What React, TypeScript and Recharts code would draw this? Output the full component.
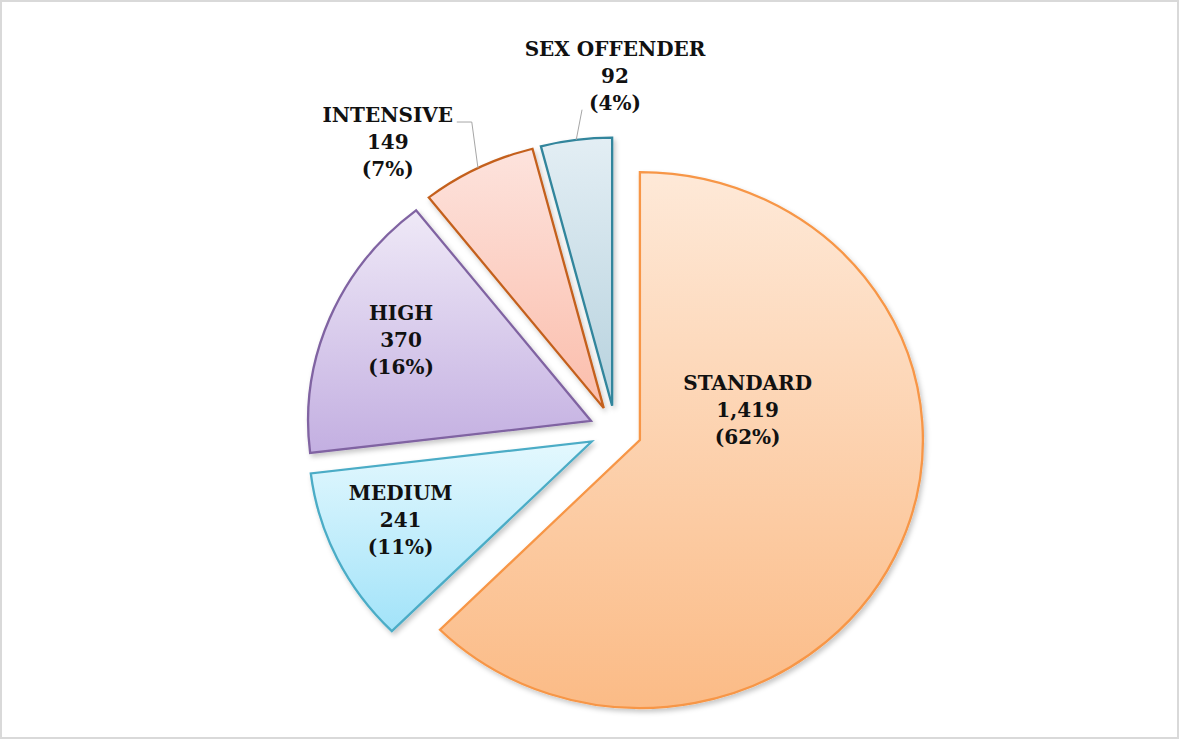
import React from 'react'
import { PieChart, Pie, Cell, Sector } from 'recharts'

const CATEGORIES = ['STANDARD', 'MEDIUM', 'HIGH', 'INTENSIVE', 'SEX OFFENDER']
const COUNTS = [1419, 241, 370, 149, 92]

const FILL_TOP = ['#FEE9D8', '#E4F8FE', '#EFE9F7', '#FDE3DD', '#E3EEF4']
const FILL_BOTTOM = ['#FBBB86', '#A2E3F9', '#C3AFE1', '#FBBDAB', '#B7D2DE']
const STROKES = ['#F79646', '#4BACC6', '#8064A2', '#C4601D', '#31859C']

// Excel "best fit" label look: a point along the slice's mid angle, then a nudge
const LABEL_RADIUS = [0.5, 0.7, 0.7, 1.2, 1.2]
const LABEL_NUDGE = [[-23, -74], [-13, 3], [-7, -2], [-65, 29], [46, -4]]
const LEADERS: (number[][] | null)[] = [null, null, null, [[84, -27], [69, -27]], [[-33, 27]]]

const WIDTH = 1179
const HEIGHT = 739
const CX = 615.5
const CY = 430.5
const RADIUS = 268
const EXPLODE = 25
const STRETCH_X = 1.056
const LINE_GAP = 27
const RADIAN = Math.PI / 180
const FONT = '"DejaVu Serif", "Liberation Serif", serif'

const chartData = CATEGORIES.map((name, idx) => ({ name, value: COUNTS[idx], idx }))

const direction = (midAngle: number) => [
  Math.cos(-midAngle * RADIAN) * STRETCH_X,
  Math.sin(-midAngle * RADIAN),
]

const renderSector = (props: any) => {
  const { cx, cy, midAngle, payload } = props
  const idx = payload?.idx ?? 0
  const [dx, dy] = direction(midAngle)
  const ox = cx + dx * EXPLODE
  const oy = cy + dy * EXPLODE
  return (
    <g
      transform={`translate(${ox},${oy}) scale(${STRETCH_X},1) translate(${-cx},${-cy})`}
      filter="url(#sliceShadow)"
    >
      <Sector
        cx={cx}
        cy={cy}
        innerRadius={props.innerRadius}
        outerRadius={props.outerRadius}
        startAngle={props.startAngle}
        endAngle={props.endAngle}
        fill={`url(#sliceGrad${idx})`}
        stroke={STROKES[idx]}
        strokeWidth={2.2}
        strokeLinejoin="miter"
      />
    </g>
  )
}

const renderLabel = (props: any) => {
  const { cx, cy, midAngle, outerRadius, percent, value, payload } = props
  const idx = payload?.idx ?? props.index ?? 0
  const [dx, dy] = direction(midAngle)
  const k = LABEL_RADIUS[idx]
  const x = cx + dx * (EXPLODE + k * outerRadius) + LABEL_NUDGE[idx][0]
  const y = cy + dy * (EXPLODE + k * outerRadius) + LABEL_NUDGE[idx][1]
  const leader = LEADERS[idx]
  let points = ''
  if (leader) {
    const ax = cx + dx * (EXPLODE + outerRadius)
    const ay = cy + dy * (EXPLODE + outerRadius)
    points = [[ax, ay], ...leader.map(([lx, ly]) => [x + lx, y + ly])]
      .map((p) => p.join(','))
      .join(' ')
  }
  return (
    <g key={`label-${idx}`}>
      {leader && <polyline points={points} fill="none" stroke="#A6A6A6" strokeWidth={1} />}
      <text
        x={x}
        y={y}
        textAnchor="middle"
        fontFamily={FONT}
        fontWeight="bold"
        fontSize={20}
        fill="#111111"
      >
        <tspan x={x} dy={-LINE_GAP}>{payload?.name ?? CATEGORIES[idx]}</tspan>
        <tspan x={x} dy={LINE_GAP}>{Number(value).toLocaleString('en-US')}</tspan>
        <tspan x={x} dy={LINE_GAP}>{`(${Math.round(percent * 100)}%)`}</tspan>
      </text>
    </g>
  )
}

export default function App() {
  return (
    <div style={{ width: WIDTH, height: HEIGHT, background: '#ffffff' }}>
      <style>{'body{margin:0}'}</style>
      <PieChart width={WIDTH} height={HEIGHT} margin={{ top: 0, right: 0, bottom: 0, left: 0 }}>
        <defs>
          {CATEGORIES.map((_, i) => (
            <linearGradient key={i} id={`sliceGrad${i}`} x1="0" y1="0" x2="0" y2="1">
              <stop offset="0%" stopColor={FILL_TOP[i]} />
              <stop offset="100%" stopColor={FILL_BOTTOM[i]} />
            </linearGradient>
          ))}
          <filter id="sliceShadow" x="-10%" y="-10%" width="130%" height="130%">
            <feDropShadow dx="2" dy="3" stdDeviation="2.5" floodColor="#000000" floodOpacity="0.22" />
          </filter>
        </defs>
        <rect x={1} y={1} width={WIDTH - 2} height={HEIGHT - 2} fill="none" stroke="#D9D9D9" strokeWidth={2} />
        <Pie
          data={chartData}
          dataKey="value"
          nameKey="name"
          cx={CX}
          cy={CY}
          innerRadius={0}
          outerRadius={RADIUS}
          startAngle={90}
          endAngle={-270}
          stroke="none"
          isAnimationActive={false}
          labelLine={false}
          label={renderLabel}
          shape={renderSector}
          activeShape={renderSector}
          inactiveShape={renderSector}
        >
          {chartData.map((entry) => (
            <Cell key={`cell-${entry.idx}`} fill={FILL_BOTTOM[entry.idx]} stroke={STROKES[entry.idx]} />
          ))}
        </Pie>
      </PieChart>
    </div>
  )
}
